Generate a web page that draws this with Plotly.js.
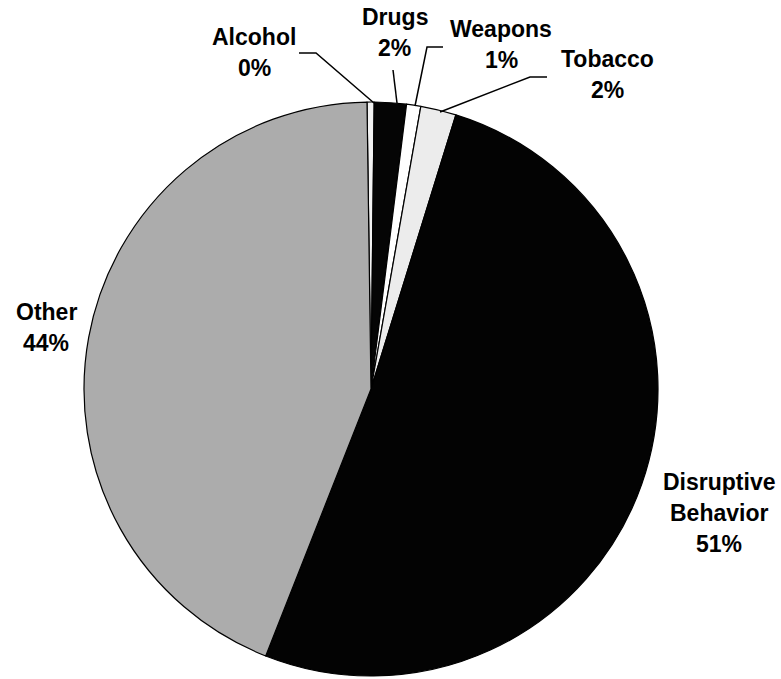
<!DOCTYPE html>
<html>
<head>
<meta charset="utf-8">
<script src="https://cdn.plot.ly/plotly-3.0.1.min.js"></script>
<style>html,body{margin:0;padding:0;background:#fff;}#chart{width:781px;height:679px;}</style>
</head>
<body>
<div id="chart"></div>
<script>
var categories = ["Alcohol", "Drugs", "Weapons", "Tobacco", "Disruptive Behavior", "Other"];
var values = [0.4, 1.8, 0.8, 2.0, 51.2, 43.8];
var percentLabels = ["0%", "2%", "1%", "2%", "51%", "44%"];
var nameLines = [["Alcohol"], ["Drugs"], ["Weapons"], ["Tobacco"], ["Disruptive", "Behavior"], ["Other"]];
var colors = ["#f2f2f2", "#050505", "#ffffff", "#ececec", "#030303", "#acacac"];

var W = 781, H = 679;
function px(x) { return x / W; }
function py(y) { return 1 - y / H; }

// label anchor positions (pixel centres / baselines of the first line)
var labelPos = [
  {x: 254, y: 45},
  {x: 395, y: 25},
  {x: 501, y: 37},
  {x: 607, y: 67},
  {x: 719, y: 490},
  {x: 46, y: 320}
];
var lineGap = 31;

var annotations = [];
for (var i = 0; i < categories.length; i++) {
  var lines = nameLines[i].concat([percentLabels[i]]);
  for (var j = 0; j < lines.length; j++) {
    annotations.push({
      text: "<b>" + lines[j] + "</b>",
      xref: "paper", yref: "paper",
      x: px(labelPos[i].x), y: py(labelPos[i].y + j * lineGap - 8),
      xanchor: "center", yanchor: "middle",
      showarrow: false,
      font: {family: "Liberation Sans, Arial, sans-serif", size: 23, color: "#000"}
    });
  }
}

// leader lines (pixel paths)
var leaders = [
  [[299, 53], [316, 53], [374, 103]],
  [[393, 70], [397, 103]],
  [[443, 47], [427, 47], [415, 106]],
  [[547, 77], [530, 77], [440, 112]]
];
var shapes = leaders.map(function (pts) {
  var d = pts.map(function (p, k) { return (k === 0 ? "M " : " L ") + px(p[0]) + " " + py(p[1]); }).join("");
  return {type: "path", xref: "paper", yref: "paper", path: d, line: {color: "#000", width: 1.5}};
});

var data = [{
  type: "pie",
  labels: categories,
  values: values,
  sort: false,
  direction: "clockwise",
  rotation: -0.8,
  textinfo: "none",
  hoverinfo: "label+percent",
  marker: {colors: colors, line: {color: "#000", width: 1.2}},
  domain: {x: [px(84), px(658)], y: [py(676), py(102)]},
  showlegend: false
}];

var layout = {
  width: W, height: H,
  margin: {l: 0, r: 0, t: 0, b: 0},
  paper_bgcolor: "#fff",
  showlegend: false,
  annotations: annotations,
  shapes: shapes
};

Plotly.newPlot("chart", data, layout, {displayModeBar: false, staticPlot: true});
</script>
</body>
</html>
